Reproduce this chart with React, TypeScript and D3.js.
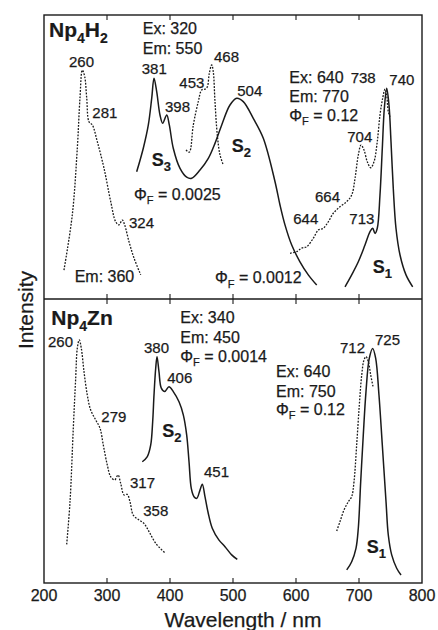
import React from "react";
import * as d3 from "d3";

// ---------- data (wavelength nm, relative intensity 0-100) ----------
// Upper panel: Np4H2
const h2ExcEm360Wl = [231.7, 244.9, 252.9, 257.1, 260.8, 264.6, 267.8, 271.4, 276.7, 284.6, 295.2, 305.9, 313.8, 319, 324.3, 328, 334.9, 342.9, 353.5];
const h2ExcEm360I = [10.2, 29.6, 53.2, 70.8, 80.6, 78.3, 70.8, 62.4, 61.3, 55.4, 46.1, 34.3, 27.2, 26.1, 27.8, 26.1, 20.2, 14.4, 8.5];

const h2EmEx320Wl = [347.1, 357.6, 365.6, 371, 374.6, 378.9, 384.1, 388.4, 394.8, 398.9, 405.2, 415.9, 426.5, 434.4, 447.6, 460.8, 471.4, 482.1, 495.2, 505.9, 516.3, 532.2, 548.1, 566.7, 574.6, 582.5, 593.2, 606.3, 619.5, 632.9];
const h2EmEx320I = [44.8, 53.1, 61.3, 70.7, 77.7, 73.0, 64.8, 61.9, 64.8, 61.3, 53.1, 46.0, 42.9, 42.5, 45.4, 49.5, 54.8, 61.3, 68.3, 70.7, 69.5, 63.6, 56.6, 41.3, 33.1, 26.1, 19.0, 13.1, 8.5, 4.9];

const h2ExcEm550Wl = [425.4, 430.6, 437, 444.9, 450.3, 455.6, 459.2, 462.4, 466.2, 468.7, 471.4, 475.1, 479.4, 484.6];
const h2ExcEm550I = [52.5, 51.7, 61.3, 69.5, 73.6, 73.9, 74.7, 79.5, 82.4, 80.0, 69.5, 57.7, 50.7, 47.2];

const h2ExcEm770Wl = [590.5, 601.1, 609, 617, 627.5, 635.4, 643.3, 651.3, 659.2, 669.8, 680.5, 688.4, 693.7, 698.9, 703.2, 707.9, 713.2, 718.6, 723.8, 729.0, 733.3, 737.6, 741.3, 743.9, 746.5, 749.2];
const h2ExcEm770I = [16.1, 16.7, 17.9, 18.4, 21.4, 24.3, 24.9, 27.2, 30.2, 32.5, 34.3, 36.6, 42.5, 50.7, 54.2, 52.5, 48.3, 46.2, 48.3, 55.4, 64.8, 70.7, 73.9, 71.8, 66.0, 64.2];

const h2EmEx640Wl = [677.8, 688.4, 698.9, 709.5, 717.5, 721.7, 725.4, 729.0, 733.3, 737, 740.2, 744, 747.6, 750.8, 754.4, 758.7, 765.1, 774.6, 785.2];
const h2EmEx640I = [4.3, 8.5, 13.1, 19.0, 23.7, 24.9, 23.1, 24.9, 36.6, 53.1, 67.1, 74.2, 68.3, 55.4, 39.0, 24.9, 15.5, 8.5, 4.3];

// Lower panel: Np4Zn
const znExcWl = [236, 241.3, 246.5, 250.3, 252.9, 256, 259.2, 263.5, 268.7, 274.1, 282.1, 288.9, 294.1, 300.5, 305.9, 312.2, 317.5, 321.7, 327, 332.2, 336.5, 341.7, 350.8, 358.7, 366.7, 377.3, 392.5];
const znExcI = [13.6, 28.6, 54.5, 72.1, 82.7, 85.6, 82.7, 74.4, 66.2, 60.9, 57.4, 54.5, 48.6, 41.5, 37.4, 36.3, 38.0, 35.1, 31.0, 31.2, 28.6, 23.9, 22.2, 21.0, 18.1, 14.0, 10.5];

const znEmEx340Wl = [356, 364, 369.4, 372.5, 374.6, 377.3, 379.4, 382.5, 386.2, 391.6, 398.4, 405.2, 414.3, 421.1, 426.5, 430.2, 433.8, 438.1, 442.4, 447.6, 451.3, 455.6, 460.3, 467.1, 477.8, 487.3, 497.9, 506.8];
const znEmEx340I = [42.7, 44.5, 48.6, 56.8, 66.2, 75.6, 79.7, 74.4, 68.6, 67.4, 69.1, 67.4, 63.8, 59.2, 52.1, 42.7, 33.3, 30.4, 29.8, 32.7, 34.8, 30.3, 25.0, 19.3, 15.1, 12.8, 9.9, 8.3];

const znExcEm750Wl = [664.6, 669.8, 676.2, 683, 688.4, 692.1, 696.3, 700.5, 704.3, 707.9, 711.1, 714.8, 718.6, 722.7];
const znExcEm750I = [18.3, 21.6, 25.7, 28.6, 30.4, 35.7, 48.6, 62.7, 73.2, 78.5, 79.7, 77.9, 73.2, 68.7];

const znEmEx640Wl = [680.5, 688.4, 695.2, 698.9, 702.7, 706.8, 711.1, 716.3, 721.7, 726.5, 731.7, 737, 742.9, 746.5, 751.9, 759.8, 766.7];
const znEmEx640I = [4.6, 7.5, 12.2, 19.3, 35.7, 52.1, 67.4, 79.1, 82.6, 79.1, 66.2, 48.6, 28.6, 16.9, 9.9, 5.2, 2.8];

const xTicks = [200, 300, 400, 500, 600, 700, 800];

// Annotations: [text, wavelength, intensity, kind]
const upperNotes: [string, number, number, string][] = [
  ["Np_4H_2", 207.9, 92.3, "title"],
  ["Ex: 320", 356.7, 93.2, "note"],
  ["Em: 550", 356.7, 86.2, "note"],
  ["381", 355.1, 79.1, "peak"],
  ["453", 414.8, 74.4, "peak"],
  ["468", 469.8, 83.6, "peak"],
  ["398", 392.1, 65.7, "peak"],
  ["504", 506.8, 71.5, "peak"],
  ["S_3", 371, 46.9, "state"],
  ["S_2", 497.9, 51.9, "state"],
  ["Φ_F = 0.0025", 342.9, 34.9, "note"],
  ["260", 239.7, 81.8, "peak"],
  ["281", 276.7, 63.6, "peak"],
  ["324", 334.9, 24.9, "peak"],
  ["Em: 360", 248.7, 6.1, "note"],
  ["Φ_F = 0.0012", 471.4, 5.5, "note"],
  ["Ex: 640", 589.4, 75.9, "note"],
  ["738", 686.8, 75.9, "peak"],
  ["740", 748.1, 75.4, "peak"],
  ["Em: 770", 589.4, 69.3, "note"],
  ["Φ_F = 0.12", 589.4, 62.7, "note"],
  ["704", 681.4, 55.4, "peak"],
  ["664", 630.2, 34.0, "peak"],
  ["644", 595.7, 26.3, "peak"],
  ["713", 684.6, 26.3, "peak"],
  ["S_1", 721.7, 9.0, "state"],
];

const lowerNotes: [string, number, number, string][] = [
  ["Np_4Zn", 211.6, 90.8, "title"],
  ["260", 206.3, 83.2, "peak"],
  ["380", 358.7, 80.9, "peak"],
  ["406", 395.7, 70.3, "peak"],
  ["279", 291, 56.8, "peak"],
  ["S_2", 387.8, 51.5, "state"],
  ["317", 336.5, 33.3, "peak"],
  ["358", 357.6, 23.7, "peak"],
  ["451", 454, 37.5, "peak"],
  ["Ex: 340", 416.3, 91.4, "note"],
  ["Em: 450", 416.3, 84.4, "note"],
  ["Φ_F = 0.0014", 416.3, 77.9, "note"],
  ["Ex: 640", 568.3, 72.4, "note"],
  ["Em: 750", 568.3, 65.6, "note"],
  ["Φ_F = 0.12", 568.3, 59.2, "note"],
  ["712", 669.8, 80.9, "peak"],
  ["725", 725.4, 83.8, "peak"],
  ["S_1", 712.2, 10.5, "state"],
];

// ---------- layout ----------
const W = 438;
const H = 630;
const left = 44;
const right = 422;
const top = 15;
const mid = 299;
const bottom = 583;
const FONT = "'Liberation Sans', Arial, Helvetica, sans-serif";
const INK = "#1a1a1a";

const x = d3.scaleLinear().domain([200, 800]).range([left, right]);
const yUp = d3.scaleLinear().domain([0, 100]).range([mid, top]);
const yLo = d3.scaleLinear().domain([0, 100]).range([bottom, mid]);

type Series = { wl: number[]; v: number[]; dotted: boolean };

const upperSeries: Series[] = [
  { wl: h2ExcEm360Wl, v: h2ExcEm360I, dotted: true },
  { wl: h2EmEx320Wl, v: h2EmEx320I, dotted: false },
  { wl: h2ExcEm550Wl, v: h2ExcEm550I, dotted: true },
  { wl: h2ExcEm770Wl, v: h2ExcEm770I, dotted: true },
  { wl: h2EmEx640Wl, v: h2EmEx640I, dotted: false },
];
const lowerSeries: Series[] = [
  { wl: znExcWl, v: znExcI, dotted: true },
  { wl: znEmEx340Wl, v: znEmEx340I, dotted: false },
  { wl: znExcEm750Wl, v: znExcEm750I, dotted: true },
  { wl: znEmEx640Wl, v: znEmEx640I, dotted: false },
];

function pathFor(s: Series, y: d3.ScaleLinear<number, number>) {
  const pts = s.wl.map((w, i) => [w, s.v[i]] as [number, number]);
  const gen = d3
    .line<[number, number]>()
    .x((d) => x(d[0]))
    .y((d) => y(d[1]))
    .curve(d3.curveCatmullRom.alpha(0.5));
  return gen(pts) || "";
}

function RichText({ text, size, subSize }: { text: string; size: number; subSize: number }) {
  // "_x" marks a single subscript character
  const parts: React.ReactNode[] = [];
  let i = 0;
  let k = 0;
  let inSub = false;
  while (i < text.length) {
    if (text[i] === "_" && i + 1 < text.length) {
      parts.push(
        <tspan key={k++} fontSize={subSize} dy={inSub ? 0 : size * 0.28}>
          {text[i + 1]}
        </tspan>
      );
      inSub = true;
      i += 2;
    } else {
      let j = i;
      while (j < text.length && text[j] !== "_") j++;
      parts.push(
        <tspan key={k++} fontSize={size} dy={inSub ? -size * 0.28 : 0}>
          {text.slice(i, j)}
        </tspan>
      );
      inSub = false;
      i = j;
    }
  }
  return <>{parts}</>;
}

function Notes({ notes, y }: { notes: [string, number, number, string][]; y: d3.ScaleLinear<number, number> }) {
  return (
    <g>
      {notes.map(([t, w, v, kind], idx) => {
        const isTitle = kind === "title";
        const isState = kind === "state";
        const size = isTitle ? 21 : isState ? 18 : kind === "peak" ? 15 : 16;
        const subSize = isTitle ? 14 : isState ? 13 : 11;
        return (
          <text
            key={idx}
            x={x(w)}
            y={y(v)}
            fontFamily={FONT}
            fontWeight={isTitle || isState ? "bold" : "normal"}
            fill={INK}
            stroke={INK}
            strokeWidth={isTitle || isState ? 0.2 : 0.25}
          >
            <RichText text={t} size={size} subSize={subSize} />
          </text>
        );
      })}
    </g>
  );
}

export default function App() {
  return (
    <svg
      width={W}
      height={H}
      viewBox={`0 0 ${W} ${H}`}
      style={{ position: "absolute", left: 0, top: 0, background: "#fff" }}
    >
      <rect x={0} y={0} width={W} height={H} fill="#fff" />
      {/* curves */}
      {upperSeries.map((s, i) => (
        <path
          key={"u" + i}
          d={pathFor(s, yUp)}
          fill="none"
          stroke={INK}
          strokeWidth={s.dotted ? 1.3 : 1.5}
          strokeDasharray={s.dotted ? "1.8,1.4" : undefined}
        />
      ))}
      {lowerSeries.map((s, i) => (
        <path
          key={"l" + i}
          d={pathFor(s, yLo)}
          fill="none"
          stroke={INK}
          strokeWidth={s.dotted ? 1.3 : 1.5}
          strokeDasharray={s.dotted ? "1.8,1.4" : undefined}
        />
      ))}
      {/* frames */}
      <rect x={left} y={top} width={right - left} height={bottom - top} fill="none" stroke={INK} strokeWidth={1.4} />
      <line x1={left} x2={right} y1={mid} y2={mid} stroke={INK} strokeWidth={1.4} />
      {/* ticks */}
      {xTicks.slice(1, -1).map((t) => (
        <g key={"t" + t} stroke={INK} strokeWidth={1.1}>
          <line x1={x(t)} x2={x(t)} y1={top} y2={top + 5} />
          <line x1={x(t)} x2={x(t)} y1={mid - 5} y2={mid + 5} />
          <line x1={x(t)} x2={x(t)} y1={bottom} y2={bottom - 5} />
        </g>
      ))}
      {xTicks.map((t) => (
        <text key={"l" + t} x={x(t)} y={601} textAnchor="middle" fontFamily={FONT} fontSize={16} fill={INK} stroke={INK} strokeWidth={0.25}>
          {t}
        </text>
      ))}
      <text x={243} y={627} textAnchor="middle" fontFamily={FONT} fontSize={21} fill={INK} stroke={INK} strokeWidth={0.25}>
        Wavelength / nm
      </text>
      <text
        transform={`translate(33, 310) rotate(-90)`}
        textAnchor="middle"
        fontFamily={FONT}
        fontSize={21}
        fill={INK}
        stroke={INK}
        strokeWidth={0.25}
      >
        Intensity
      </text>
      <Notes notes={upperNotes} y={yUp} />
      <Notes notes={lowerNotes} y={yLo} />
    </svg>
  );
}
